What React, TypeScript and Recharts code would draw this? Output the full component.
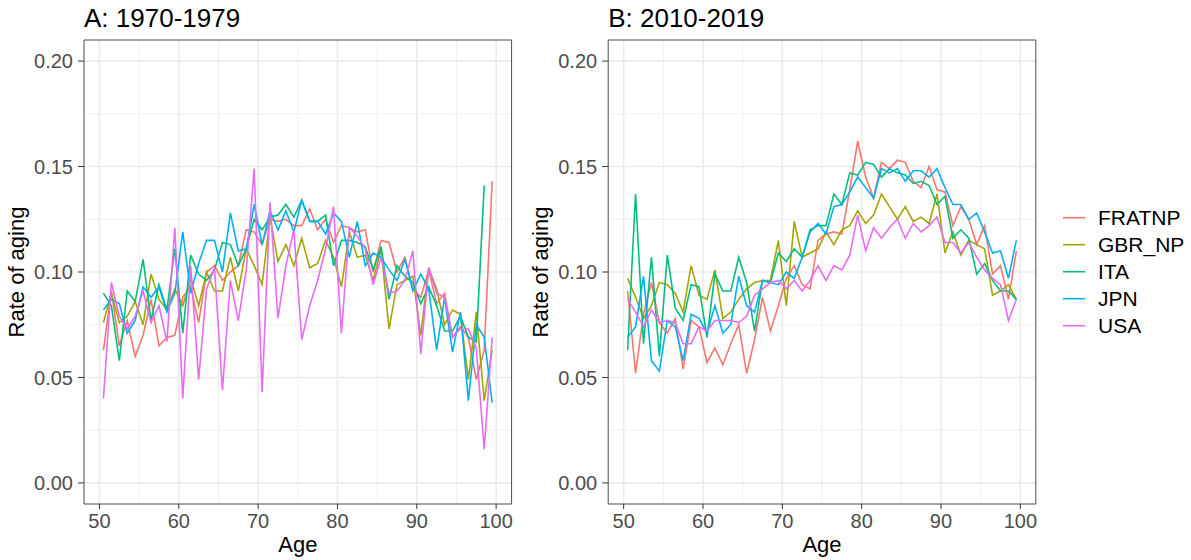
import React from 'react';
import { LineChart, Line, XAxis, YAxis, CartesianGrid, ReferenceArea } from 'recharts';

const ages = [50.5, 51.5, 52.5, 53.5, 54.5, 55.5, 56.5, 57.5, 58.5, 59.5, 60.5, 61.5, 62.5, 63.5, 64.5, 65.5, 66.5, 67.5, 68.5, 69.5, 70.5, 71.5, 72.5, 73.5, 74.5, 75.5, 76.5, 77.5, 78.5, 79.5, 80.5, 81.5, 82.5, 83.5, 84.5, 85.5, 86.5, 87.5, 88.5, 89.5, 90.5, 91.5, 92.5, 93.5, 94.5, 95.5, 96.5, 97.5, 98.5, 99.5];

const seriesNames = ['FRATNP', 'GBR_NP', 'ITA', 'JPN', 'USA'];
const seriesColors = ['#F8766D', '#A3A500', '#00BF7D', '#00B0F6', '#E76BF3'];

// Panel A: 1970-1979
const fratnpA = [0.063, 0.091, 0.065, 0.077, 0.060, 0.070, 0.087, 0.065, 0.069, 0.070, 0.088, 0.093, 0.076, 0.100, 0.103, 0.096, 0.100, 0.103, 0.120, 0.119, 0.113, 0.125, 0.124, 0.125, 0.122, 0.122, 0.130, 0.120, 0.125, 0.114, 0.122, 0.121, 0.119, 0.120, 0.100, 0.115, 0.114, 0.100, 0.107, 0.092, 0.088, 0.101, 0.085, 0.090, 0.069, 0.074, 0.069, 0.049, 0.063, 0.143];
const gbrA = [0.076, 0.090, 0.076, 0.079, 0.086, 0.075, 0.099, 0.087, 0.082, 0.092, 0.084, 0.097, 0.084, 0.100, 0.091, 0.091, 0.107, 0.091, 0.111, 0.103, 0.094, 0.126, 0.105, 0.113, 0.103, 0.116, 0.102, 0.104, 0.115, 0.107, 0.093, 0.119, 0.107, 0.108, 0.096, 0.111, 0.073, 0.094, 0.096, 0.098, 0.070, 0.102, 0.092, 0.075, 0.082, 0.080, 0.049, 0.081, 0.039, 0.063];
const itaA = [0.090, 0.084, 0.058, 0.091, 0.086, 0.106, 0.077, 0.094, 0.082, 0.111, 0.071, 0.108, 0.099, 0.096, 0.101, 0.114, 0.113, 0.103, 0.111, 0.125, 0.120, 0.126, 0.127, 0.132, 0.126, 0.134, 0.124, 0.124, 0.127, 0.103, 0.115, 0.115, 0.114, 0.112, 0.101, 0.112, 0.087, 0.103, 0.098, 0.095, 0.085, 0.093, 0.084, 0.072, 0.072, 0.079, 0.069, 0.067, 0.141, null];
const jpnA = [0.082, 0.087, 0.085, 0.071, 0.077, 0.093, 0.088, 0.093, 0.081, 0.090, 0.119, 0.090, 0.104, 0.115, 0.115, 0.100, 0.128, 0.110, 0.111, 0.132, 0.113, 0.129, 0.120, 0.129, 0.119, 0.134, 0.124, 0.124, 0.118, 0.128, 0.124, 0.107, 0.124, 0.103, 0.109, 0.107, 0.101, 0.096, 0.106, 0.091, 0.099, 0.092, 0.063, 0.088, 0.062, 0.081, 0.039, 0.075, 0.069, 0.038];
const usaA = [0.040, 0.095, 0.079, 0.073, 0.079, 0.091, 0.076, 0.084, 0.067, 0.121, 0.040, 0.103, 0.049, 0.092, 0.102, 0.044, 0.096, 0.077, 0.101, 0.149, 0.043, 0.133, 0.078, 0.103, 0.120, 0.068, 0.084, 0.096, 0.111, 0.131, 0.071, 0.121, 0.117, 0.111, 0.094, 0.107, 0.090, 0.091, 0.096, 0.110, 0.061, 0.102, 0.090, 0.088, 0.069, 0.073, 0.073, 0.064, 0.016, 0.069];

// Panel B: 2010-2019
const fratnpB = [0.091, 0.052, 0.080, 0.095, 0.076, 0.071, 0.078, 0.054, 0.077, 0.074, 0.057, 0.064, 0.056, 0.066, 0.075, 0.052, 0.068, 0.088, 0.072, 0.084, 0.097, 0.103, 0.094, 0.092, 0.115, 0.118, 0.119, 0.118, 0.139, 0.162, 0.145, 0.135, 0.152, 0.149, 0.153, 0.152, 0.143, 0.140, 0.150, 0.139, 0.138, 0.122, 0.131, 0.125, 0.113, 0.122, 0.099, 0.103, 0.087, 0.110];
const gbrB = [0.097, 0.088, 0.078, 0.084, 0.095, 0.094, 0.090, 0.081, 0.103, 0.089, 0.087, 0.101, 0.078, 0.081, 0.087, 0.092, 0.095, 0.096, 0.096, 0.115, 0.084, 0.124, 0.107, 0.109, 0.111, 0.119, 0.113, 0.120, 0.122, 0.129, 0.123, 0.127, 0.137, 0.131, 0.125, 0.131, 0.124, 0.126, 0.123, 0.137, 0.109, 0.119, 0.108, 0.115, 0.113, 0.111, 0.089, 0.091, 0.094, 0.087];
const itaB = [0.063, 0.137, 0.066, 0.107, 0.060, 0.108, 0.083, 0.077, 0.094, 0.093, 0.069, 0.099, 0.091, 0.091, 0.107, 0.095, 0.072, 0.096, 0.095, 0.109, 0.105, 0.111, 0.107, 0.120, 0.122, 0.122, 0.137, 0.132, 0.147, 0.146, 0.152, 0.151, 0.145, 0.149, 0.147, 0.146, 0.142, 0.143, 0.141, 0.132, 0.136, 0.116, 0.120, 0.116, 0.099, 0.104, 0.096, 0.091, 0.091, 0.087];
const jpnB = [0.069, 0.074, 0.098, 0.058, 0.053, 0.077, 0.074, 0.058, 0.080, 0.078, 0.071, 0.084, 0.071, 0.075, 0.098, 0.084, 0.081, 0.096, 0.095, 0.094, 0.100, 0.097, 0.107, 0.119, 0.123, 0.118, 0.131, 0.132, 0.138, 0.145, 0.140, 0.135, 0.149, 0.147, 0.149, 0.143, 0.148, 0.148, 0.145, 0.149, 0.140, 0.132, 0.132, 0.125, 0.128, 0.119, 0.109, 0.110, 0.097, 0.115];
const usaB = [0.087, 0.081, 0.074, 0.082, 0.076, 0.077, 0.076, 0.066, 0.066, 0.074, 0.072, 0.077, 0.077, 0.077, 0.076, 0.079, 0.089, 0.092, 0.095, 0.096, 0.092, 0.096, 0.091, 0.096, 0.103, 0.096, 0.103, 0.101, 0.108, 0.127, 0.110, 0.121, 0.116, 0.121, 0.125, 0.116, 0.123, 0.119, 0.122, 0.126, 0.114, 0.114, 0.109, 0.114, 0.107, 0.101, 0.097, 0.094, 0.077, 0.087];

const panelTitles = ['A: 1970-1979', 'B: 2010-2019'];
const xTicks = [50, 60, 70, 80, 90, 100];
const xMinor = [55, 65, 75, 85, 95];
const yTicks = [0, 0.05, 0.1, 0.15, 0.2];
const yMinor = [0.025, 0.075, 0.125, 0.175];
const xDomain: [number, number] = [48.05, 101.95];
const yDomain: [number, number] = [-0.01, 0.21];

const FONT = '"Liberation Sans", Arial, Helvetica, sans-serif';

function buildRows(cols: (number | null)[][]) {
  return ages.map((age, i) => {
    const row: Record<string, number | null> = { age };
    seriesNames.forEach((n, k) => {
      row[n] = cols[k][i];
    });
    return row;
  });
}

const dataA = buildRows([fratnpA, gbrA, itaA, jpnA, usaA]);
const dataB = buildRows([fratnpB, gbrB, itaB, jpnB, usaB]);

const CHART_W = 530;
const CHART_H = 560;

function Panel({ data, left, yAxisWidth, rightMargin }: { data: any[]; left: number; yAxisWidth: number; rightMargin: number }) {
  return (
    <div style={{ position: 'absolute', left, top: 0 }}>
      <LineChart width={CHART_W} height={CHART_H} data={data} margin={{ top: 40, right: rightMargin, bottom: 0, left: 0 }}>
        <CartesianGrid stroke="#EBEBEB" strokeWidth={0.8} horizontalValues={yMinor} verticalValues={xMinor} />
        <CartesianGrid stroke="#EBEBEB" strokeWidth={1.6} horizontalValues={yTicks} verticalValues={xTicks} />
        <XAxis
          dataKey="age"
          type="number"
          domain={xDomain}
          ticks={xTicks}
          allowDataOverflow
          height={56}
          axisLine={false}
          tickLine={{ stroke: '#333333', strokeWidth: 1 }}
          tickSize={5}
          tickMargin={5}
          tick={{ fill: '#4D4D4D', fontSize: 20, fontFamily: FONT }}
        />
        <YAxis
          type="number"
          domain={yDomain}
          ticks={yTicks}
          allowDataOverflow
          width={yAxisWidth}
          axisLine={false}
          tickLine={{ stroke: '#333333', strokeWidth: 1 }}
          tickSize={6}
          tickMargin={5}
          tickFormatter={(v: number) => v.toFixed(2)}
          tick={{ fill: '#4D4D4D', fontSize: 20, fontFamily: FONT }}
        />
        {seriesNames.map((n, k) => (
          <Line
            key={n}
            type="linear"
            dataKey={n}
            stroke={seriesColors[k]}
            strokeWidth={1.6}
            dot={false}
            activeDot={false}
            isAnimationActive={false}
          />
        ))}
        <ReferenceArea x1={xDomain[0]} x2={xDomain[1]} y1={yDomain[0]} y2={yDomain[1]} fill="none" stroke="#4D4D4D" strokeWidth={1} ifOverflow="visible" />
      </LineChart>
    </div>
  );
}

export default function App() {
  const panelLefts = [84, 608.2];
  const panelRights = [511.6, 1035.8];
  return (
    <div style={{ position: 'absolute', left: 0, top: 0, width: 1191, height: 560, background: '#ffffff', fontFamily: FONT }}>
      <Panel data={dataA} left={0} yAxisWidth={84} rightMargin={CHART_W - 511.6} />
      <Panel data={dataB} left={525} yAxisWidth={608.2 - 525} rightMargin={CHART_W - (1035.8 - 525)} />
      <svg width={1191} height={560} style={{ position: 'absolute', left: 0, top: 0, pointerEvents: 'none' }}>
        {panelTitles.map((t, i) => (
          <text key={t} x={panelLefts[i]} y={26.7} fontSize={26} fill="#000" fontFamily={FONT}>{t}</text>
        ))}
        {panelLefts.map((l, i) => (
          <text key={'x' + i} x={(l + panelRights[i]) / 2} y={551.5} fontSize={22} textAnchor="middle" fill="#000" fontFamily={FONT}>Age</text>
        ))}
        {panelLefts.map((l, i) => (
          <text key={'y' + i} transform={`translate(${l - 60},272) rotate(-90)`} fontSize={22} textAnchor="middle" fill="#000" fontFamily={FONT}>Rate of aging</text>
        ))}
        {seriesNames.map((n, k) => {
          const cy = 217.7 + k * 27;
          return (
            <g key={n}>
              <line x1={1063} x2={1085} y1={cy} y2={cy} stroke={seriesColors[k]} strokeWidth={1.6} />
              <text x={1098} y={cy} dy="0.36em" fontSize={21} fill="#000" fontFamily={FONT}>{n}</text>
            </g>
          );
        })}
      </svg>
    </div>
  );
}
